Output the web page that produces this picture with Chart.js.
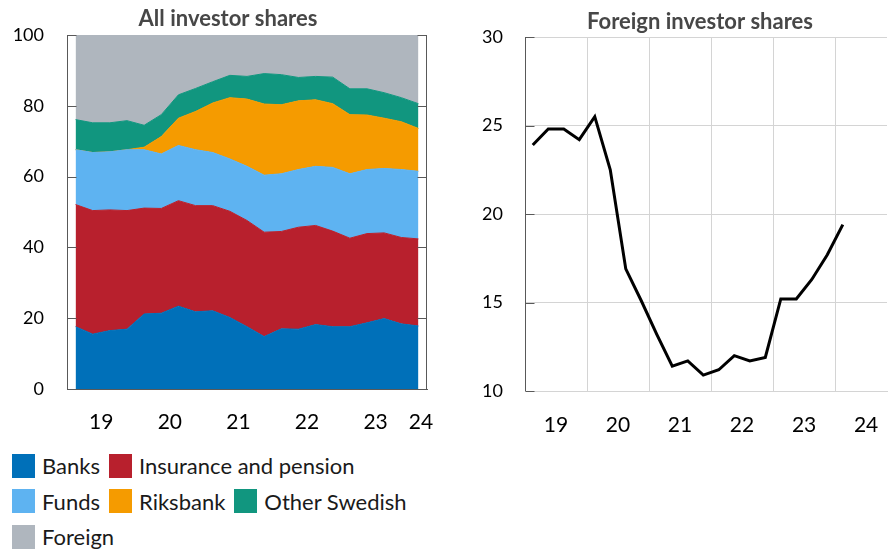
<!DOCTYPE html>
<html>
<head>
<meta charset="utf-8">
<script src="https://cdn.jsdelivr.net/npm/chart.js@4.4.1/dist/chart.umd.min.js"></script>
<style>
  html, body { margin: 0; padding: 0; background: #fff; overflow: hidden; width: 888px; height: 551px; }
  #wrap { position: relative; width: 944px; height: 551px; }
  #left { position: absolute; left: 0; top: 0; }
  #right { position: absolute; left: 456px; top: 0; }
  #legend { position: absolute; left: 12px; top: 448px; width: 415px; display: flex; flex-wrap: wrap;
            font-family: Lato, sans-serif; font-size: 22px; color: #1a1a1a; }
  .item { display: flex; align-items: center; height: 35.5px; margin-right: 9px; white-space: nowrap; }
  .box { display: inline-block; width: 23px; height: 24px; margin-right: 7px; }
</style>
</head>
<body>
<div id="wrap">
  <canvas id="left" width="456" height="445"></canvas>
  <canvas id="right" width="488" height="445"></canvas>
  <div id="legend"></div>
</div>
<script>
// quarterly, 2019 Q1 - 2024 Q1, share of total (%)
var QUARTERS = ['2019 Q1', '2019 Q2', '2019 Q3', '2019 Q4', '2020 Q1', '2020 Q2', '2020 Q3', '2020 Q4',
                '2021 Q1', '2021 Q2', '2021 Q3', '2021 Q4', '2022 Q1', '2022 Q2', '2022 Q3', '2022 Q4',
                '2023 Q1', '2023 Q2', '2023 Q3', '2023 Q4', '2024 Q1'];

var banks     = [17.6, 15.5, 16.5, 16.9, 21.2, 21.4, 23.4, 21.8, 22.1, 20.2, 17.6, 14.8, 17.0, 16.9, 18.2, 17.6, 17.6, 18.7, 19.9, 18.4, 17.8];
var insurance = [34.5, 34.9, 34.1, 33.5, 29.9, 29.6, 29.8, 30.0, 29.7, 30.0, 30.0, 29.5, 27.5, 28.8, 28.0, 27.0, 25.0, 25.2, 24.2, 24.4, 24.6];
var funds     = [15.5, 16.4, 16.4, 17.2, 16.5, 15.4, 15.6, 15.8, 15.0, 14.8, 15.3, 16.1, 16.3, 16.3, 16.7, 18.0, 18.2, 18.1, 18.2, 19.2, 19.1];
var riksbank  = [0, 0, 0, 0, 0.7, 4.9, 7.7, 10.8, 14.0, 17.3, 19.0, 20.1, 19.5, 19.4, 18.8, 18.0, 16.7, 15.4, 14.2, 13.5, 12.1];
var other     = [8.5, 8.4, 8.2, 8.2, 6.2, 6.2, 6.6, 6.5, 6.0, 6.3, 6.4, 8.6, 8.5, 6.6, 6.6, 7.5, 7.3, 7.4, 7.2, 6.8, 7.0];
var foreign   = [23.9, 24.8, 24.8, 24.2, 25.5, 22.5, 16.9, 15.1, 13.2, 11.4, 11.7, 10.9, 11.2, 12.0, 11.7, 11.9, 15.2, 15.2, 16.3, 17.7, 19.4];

var YEAR_LABELS = ['19', '20', '21', '22', '23', '24'];
var LEFT_TICKS  = [1.5, 5.5, 9.5, 13.5, 17.5, 20.15];
var RIGHT_TICKS = [1.5, 5.5, 9.5, 13.5, 17.5, 21.5];

var FONT = 'Lato';
var AXIS = '#595959';
var GRID = '#d4d4d4';

function pts(arr) {
    return QUARTERS.map(function (q, i) { return { x: i, y: arr[i] }; });
}

function area(label, arr, color, fill) {
    return {
        label: label,
        data: pts(arr),
        backgroundColor: color,
        borderColor: color,
        borderWidth: 1,
        pointRadius: 0,
        tension: 0,
        fill: fill
    };
}

// axis line with tick marks pointing into the plot
var innerTicks = {
    id: 'innerTicks',
    afterDatasetsDraw: function (chart, args, opts) {
        var ctx = chart.ctx, a = chart.chartArea, y = chart.scales.y;
        var len = opts.len || 9;
        ctx.save();
        ctx.strokeStyle = AXIS;
        ctx.lineWidth = 1;
        ctx.beginPath();
        var L = Math.round(a.left) + 0.5;
        ctx.moveTo(L, a.top);
        ctx.lineTo(L, a.bottom);
        y.ticks.forEach(function (t) {
            var p = Math.round(y.getPixelForValue(t.value)) + 0.5;
            ctx.moveTo(L, p);
            ctx.lineTo(L + len, p);
        });
        if (opts.right) {
            var R = Math.round(a.right) - 0.5;
            ctx.moveTo(R, a.top);
            ctx.lineTo(R, a.bottom);
            y.ticks.forEach(function (t) {
                var p = Math.round(y.getPixelForValue(t.value)) + 0.5;
                ctx.moveTo(R, p);
                ctx.lineTo(R - len, p);
            });
        }
        ctx.stroke();
        ctx.restore();
    }
};

function titleOpts(text, top, bottom) {
    return {
        display: true,
        text: text,
        color: '#474747',
        font: { family: FONT, size: 22, weight: 'bold' },
        padding: { top: top, bottom: bottom }
    };
}

var leftChart = new Chart(document.getElementById('left'), {
    type: 'line',
    data: {
        datasets: [
            area('Banks', banks, '#0070b9', 'origin'),
            area('Insurance and pension', insurance, '#b8202d', '-1'),
            area('Funds', funds, '#5eb3f1', '-1'),
            area('Riksbank', riksbank, '#f59b00', '-1'),
            area('Other Swedish', other, '#11967f', '-1'),
            area('Foreign', foreign, '#afb6be', '-1')
        ]
    },
    options: {
        responsive: false,
        animation: false,
        layout: { padding: 0 },
        plugins: {
            legend: { display: false },
            tooltip: { enabled: false },
            title: titleOpts('All investor shares', 6, 2.6),
            innerTicks: { len: 9, right: true }
        },
        scales: {
            x: {
                type: 'linear', min: -0.5, max: 20.5,
                grid: { display: false, drawTicks: false },
                border: { display: true, color: AXIS },
                afterBuildTicks: function (s) { s.ticks = LEFT_TICKS.map(function (v) { return { value: v }; }); },
                afterFit: function (s) { s.height = 56; },
                ticks: {
                    autoSkip: false, maxRotation: 0, padding: 21, color: '#000',
                    font: { family: FONT, size: 21 },
                    callback: function (v, i) { return YEAR_LABELS[i]; }
                }
            },
            y: {
                stacked: true, min: 0, max: 100,
                grid: { display: false, drawTicks: false },
                border: { display: false },
                afterFit: function (s) { s.width = 67; },
                ticks: { stepSize: 20, padding: 23, color: '#000', font: { family: FONT, size: 18 } }
            },
            yr: {
                position: 'right', min: 0, max: 100,
                grid: { display: false, drawTicks: false },
                border: { display: false },
                ticks: { display: false },
                afterFit: function (s) { s.width = 29; }
            }
        }
    },
    plugins: [innerTicks]
});

var rightChart = new Chart(document.getElementById('right'), {
    type: 'line',
    data: {
        datasets: [{
            label: 'Foreign',
            data: pts(foreign),
            borderColor: '#000',
            borderWidth: 3,
            borderJoinStyle: 'miter',
            pointRadius: 0,
            tension: 0,
            fill: false
        }]
    },
    options: {
        responsive: false,
        animation: false,
        layout: { padding: 0 },
        plugins: {
            legend: { display: false },
            tooltip: { enabled: false },
            title: titleOpts('Foreign investor shares', 9, 1.6),
            innerTicks: { len: 9, right: false }
        },
        scales: {
            x: {
                type: 'linear', min: -0.5, max: 22.85,
                grid: { display: true, color: GRID, offset: true, drawTicks: false },
                border: { display: true, color: GRID },
                afterBuildTicks: function (s) { s.ticks = RIGHT_TICKS.map(function (v) { return { value: v }; }); },
                afterFit: function (s) { s.height = 54; },
                ticks: {
                    autoSkip: false, maxRotation: 0, padding: 22, color: '#000',
                    font: { family: FONT, size: 21 },
                    callback: function (v, i) { return YEAR_LABELS[i]; }
                }
            },
            y: {
                min: 10, max: 30,
                grid: { display: true, color: GRID, drawTicks: false },
                border: { display: false },
                afterFit: function (s) { s.width = 69; },
                ticks: { stepSize: 5, padding: 22, color: '#000', font: { family: FONT, size: 18 } }
            },
            yr: {
                position: 'right', min: 10, max: 30,
                grid: { display: false, drawTicks: false },
                border: { display: false },
                ticks: { display: false },
                afterFit: function (s) { s.width = 57; }
            }
        }
    },
    plugins: [innerTicks]
});

// html legend from the stacked chart's datasets
var legendEl = document.getElementById('legend');
leftChart.data.datasets.forEach(function (ds) {
    var item = document.createElement('div');
    item.className = 'item';
    var box = document.createElement('span');
    box.className = 'box';
    box.style.background = ds.backgroundColor;
    var txt = document.createElement('span');
    txt.textContent = ds.label;
    item.appendChild(box);
    item.appendChild(txt);
    legendEl.appendChild(item);
});
</script>
</body>
</html>
